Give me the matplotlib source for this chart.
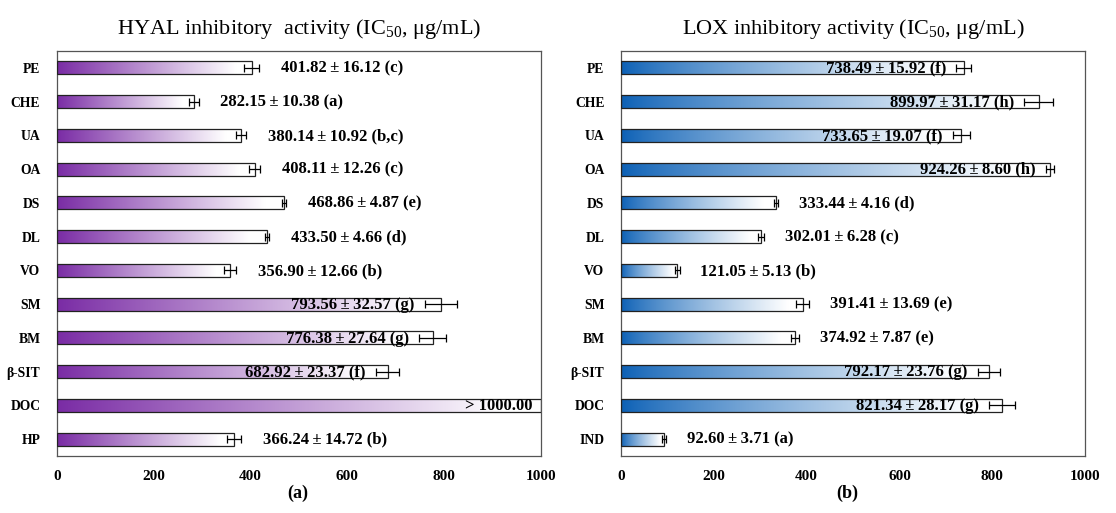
import numpy as np
import matplotlib
matplotlib.use("Agg")
import matplotlib.pyplot as plt
from matplotlib.colors import to_rgb

plt.rcParams["font.family"] = ["Liberation Serif", "DejaVu Serif"]
plt.rcParams["mathtext.fontset"] = "custom"
plt.rcParams["mathtext.rm"] = "Liberation Serif"
plt.rcParams["mathtext.it"] = "Liberation Serif:italic"

# HYAL inhibition (IC50, ug/mL)
hyal_labels = ["PE", "CHE", "UA", "OA", "DS", "DL", "VO", "SM", "BM", "β-SIT", "DOC", "HP"]
hyal_values = [401.82, 282.15, 380.14, 408.11, 468.86, 433.50, 356.90, 793.56, 776.38, 682.92, 1000.0, 366.24]
hyal_errors = [16.12, 10.38, 10.92, 12.26, 4.87, 4.66, 12.66, 32.57, 27.64, 23.37, np.nan, 14.72]
hyal_groups = ["c", "a", "b,c", "c", "e", "d", "b", "g", "g", "f", None, "b"]

# LOX inhibition (IC50, ug/mL)
lox_labels = ["PE", "CHE", "UA", "OA", "DS", "DL", "VO", "SM", "BM", "β-SIT", "DOC", "IND"]
lox_values = [738.49, 899.97, 733.65, 924.26, 333.44, 302.01, 121.05, 391.41, 374.92, 792.17, 821.34, 92.60]
lox_errors = [15.92, 31.17, 19.07, 8.60, 4.16, 6.28, 5.13, 13.69, 7.87, 23.76, 28.17, 3.71]
lox_groups = ["f", "h", "f", "h", "d", "c", "b", "e", "e", "g", "g", "a"]

xticks = [0, 200, 400, 600, 800, 1000]

PM = "\u2009±\u2009"


def gradient_bars(ax, labels, values, errors, groups, color, gamma, title):
    y = np.arange(len(labels))
    rects = ax.barh(y, values, height=0.38, facecolor="none",
                    edgecolor="#222222", linewidth=0.9, zorder=3)
    base = np.array(to_rgb(color))
    t = np.clip(np.linspace(0, 1, 256) / 0.92, 0, 1) ** gamma
    rgb = base[None, :] * (1 - t[:, None]) + np.ones(3)[None, :] * t[:, None]
    img = rgb[None, :, :]
    for r in rects:
        x0, y0 = r.get_x(), r.get_y()
        x1, y1 = x0 + r.get_width(), y0 + r.get_height()
        im = ax.imshow(img, extent=(x0, x1, y1, y0), aspect="auto",
                       interpolation="bilinear", zorder=2)
        im.set_clip_path(r)

    errs = np.array(errors, dtype=float)
    vals = np.array(values, dtype=float)
    ok = ~np.isnan(errs)
    ax.errorbar(vals[ok], y[ok], xerr=errs[ok], fmt="none", ecolor="black",
                elinewidth=0.9, capsize=3.2, capthick=0.9, zorder=4)

    kw = dict(va="center", fontsize=12, fontweight="bold", zorder=5,
              family=["Liberation Serif", "DejaVu Serif"])
    for yi, v, e, g in zip(y, vals, errs, groups):
        if g is None:
            ax.text(v - 18, yi + 0.02, "> %.2f" % v, ha="right", **kw)
            continue
        s = f"{v:.2f}{PM}{e:.2f} ({g})"
        if v > 600:
            ax.text(v - e - 22, yi + 0.02, s, ha="right", **kw)
        else:
            ax.text(v + e + 45, yi + 0.02, s, ha="left", **kw)

    ax.set_xlim(0, 1000)
    ax.set_ylim(len(labels) - 0.5, -0.5)
    ax.set_yticks(y)
    ax.set_yticklabels(labels, fontweight="bold", fontsize=9.8)
    ax.set_xticks(xticks)
    ax.set_xticklabels([str(v) for v in xticks], fontweight="bold", fontsize=11)
    ax.tick_params(axis="y", length=0, pad=12)
    ax.tick_params(axis="x", length=0, pad=10)
    for sp in ax.spines.values():
        sp.set_color("#555555")
        sp.set_linewidth(0.9)
    ax.set_title(title, fontsize=16, pad=12)


fig = plt.figure(figsize=(11.16, 5.13), dpi=100)
ax1 = fig.add_axes([0.0511, 0.1111, 0.4337, 0.7895])
ax2 = fig.add_axes([0.5565, 0.1111, 0.4158, 0.7895])

gradient_bars(ax1, hyal_labels, hyal_values, hyal_errors, hyal_groups, "#7A2CA5", 1.0,
              "HYAL inhibitory  activity (IC$_{50}$, μg/mL)")
gradient_bars(ax2, lox_labels, lox_values, lox_errors, lox_groups, "#0A5FB5", 0.8,
              "LOX inhibitory activity (IC$_{50}$, μg/mL)")

fig.text(298 / 1116, 1 - 493 / 513, "(a)", ha="center", va="center",
         fontsize=13, fontweight="bold")
fig.text(847 / 1116, 1 - 493 / 513, "(b)", ha="center", va="center",
         fontsize=13, fontweight="bold")

fig.savefig("out.png", dpi=100)
